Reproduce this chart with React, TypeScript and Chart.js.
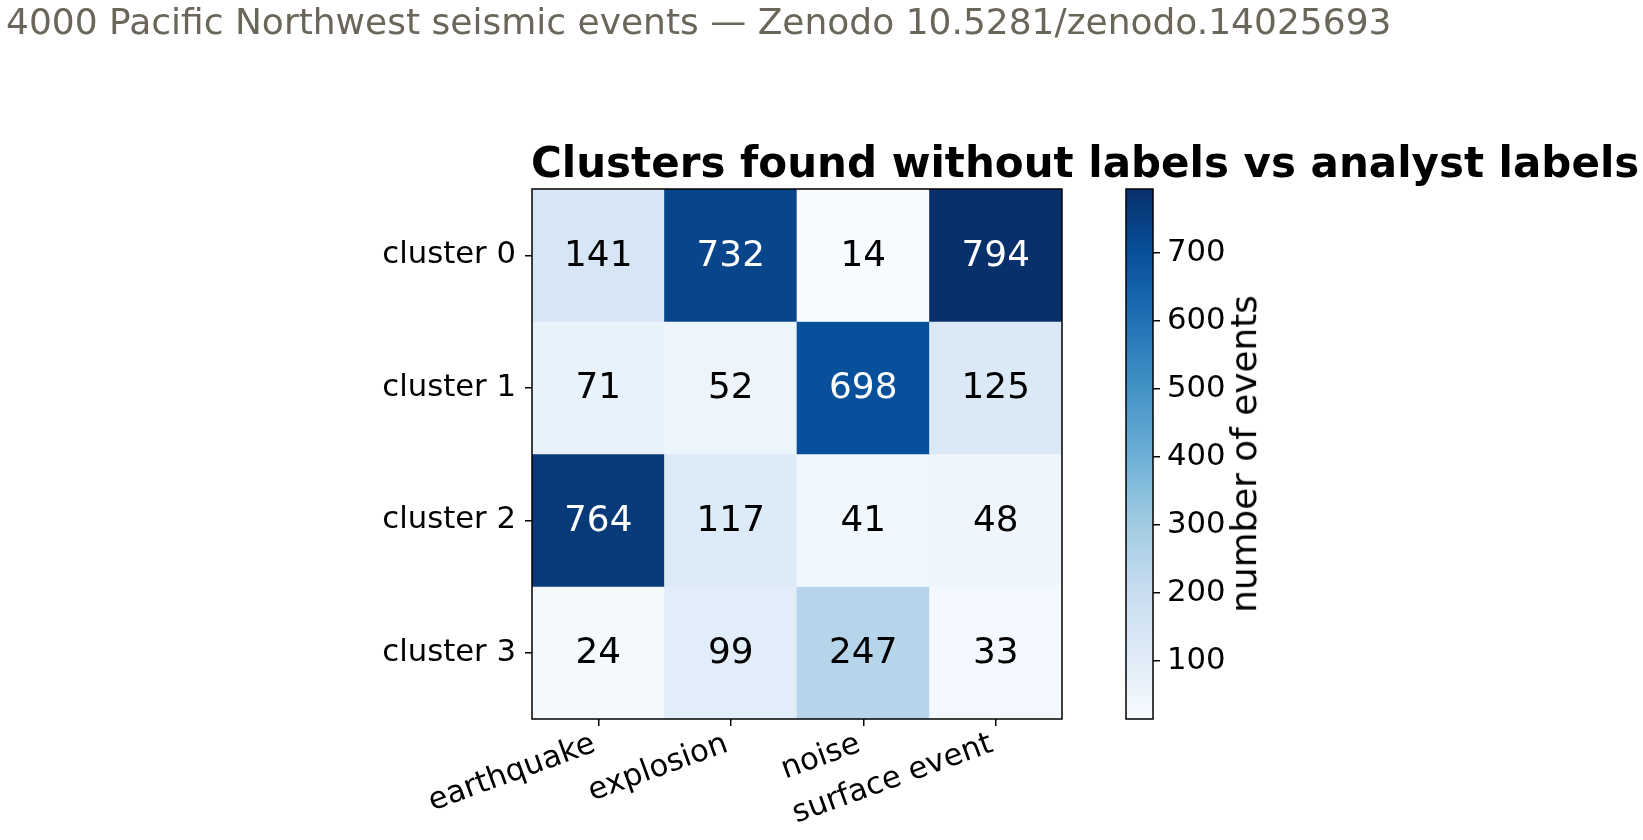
import React, { useEffect, useRef } from 'react';
import { Chart, registerables } from 'chart.js';

Chart.register(...registerables);

// ---- data ----
const CATEGORIES = ['earthquake', 'explosion', 'noise', 'surface event'];
const CLUSTER_LABELS = ['cluster 0', 'cluster 1', 'cluster 2', 'cluster 3'];
const CLUSTER_0 = [141, 732, 14, 794];
const CLUSTER_1 = [71, 52, 698, 125];
const CLUSTER_2 = [764, 117, 41, 48];
const CLUSTER_3 = [24, 99, 247, 33];
const ROWS = [CLUSTER_0, CLUSTER_1, CLUSTER_2, CLUSTER_3];
const COLORBAR_TICKS = [100, 200, 300, 400, 500, 600, 700];

const SUPTITLE = '4000 Pacific Northwest seismic events — Zenodo 10.5281/zenodo.14025693';
const TITLE = 'Clusters found without labels vs analyst labels';
const COLORBAR_LABEL = 'number of events';

// matplotlib "Blues" colormap stops
const BLUES = ['#f7fbff', '#deebf7', '#c6dbef', '#9ecae1', '#6baed6', '#4292c6', '#2171b5', '#08519c', '#08306b'];

const FONT = 'DejaVu Sans';
const W = 1643;
const H = 840;
const TICK_SIZE = 30.7;
const CELL_SIZE = 35.8;

function hexToRgb(h: string) {
  const n = parseInt(h.slice(1), 16);
  return [(n >> 16) & 255, (n >> 8) & 255, n & 255];
}

function blues(t: number) {
  const c = Math.max(0, Math.min(1, t)) * (BLUES.length - 1);
  const i = Math.min(BLUES.length - 2, Math.floor(c));
  const f = c - i;
  const a = hexToRgb(BLUES[i]);
  const b = hexToRgb(BLUES[i + 1]);
  const m = a.map((v, k) => Math.round(v + (b[k] - v) * f));
  return `rgb(${m[0]},${m[1]},${m[2]})`;
}

const ALL = ROWS.flat();
const VMIN = Math.min(...ALL);
const VMAX = Math.max(...ALL);

const framePlugin = {
  id: 'frame',
  afterDraw(chart: any) {
    const { ctx, chartArea: a } = chart;
    ctx.save();
    ctx.strokeStyle = '#000';
    ctx.lineWidth = 1.5;
    ctx.strokeRect(a.left, a.top, a.right - a.left, a.bottom - a.top);
    ctx.restore();
  },
};

const cellLabelPlugin = {
  id: 'cellLabels',
  afterDatasetsDraw(chart: any) {
    const { ctx } = chart;
    ctx.save();
    ctx.font = `${CELL_SIZE}px "${FONT}"`;
    ctx.textAlign = 'center';
    ctx.textBaseline = 'alphabetic';
    chart.data.datasets.forEach((ds: any, di: number) => {
      const meta = chart.getDatasetMeta(di);
      meta.data.forEach((el: any, i: number) => {
        const v = ds.counts[i];
        const p = el.getCenterPoint();
        ctx.fillStyle = v > (VMIN + VMAX) / 2 ? '#ffffff' : '#000000';
        ctx.fillText(String(v), p.x, p.y + 10.5);
      });
    });
    ctx.restore();
  },
};

const tickFont = { family: FONT, size: TICK_SIZE };

export default function App() {
  const mainRef = useRef<HTMLCanvasElement>(null);
  const cbRef = useRef<HTMLCanvasElement>(null);

  useEffect(() => {
    const main = new Chart(mainRef.current as HTMLCanvasElement, {
      type: 'bar',
      data: {
        labels: CATEGORIES,
        datasets: ROWS.map((row, r) => ({
          label: CLUSTER_LABELS[r],
          data: row.map(() => [r - 0.5, r + 0.5]),
          counts: row,
          backgroundColor: row.map((v) => blues((v - VMIN) / (VMAX - VMIN))),
          borderWidth: 0,
          grouped: false,
          barPercentage: 1,
          categoryPercentage: 1,
        })) as any,
      },
      options: {
        responsive: false,
        animation: false,
        devicePixelRatio: 1,
        events: [],
        layout: { padding: { left: 0, top: 189, right: W - 1062, bottom: 0 } },
        plugins: { legend: { display: false }, tooltip: { enabled: false }, title: { display: false } },
        scales: {
          x: {
            type: 'category',
            offset: true,
            border: { display: false },
            grid: { display: true, drawOnChartArea: false, drawTicks: true, tickLength: 7, color: '#000', lineWidth: 1.5, offset: false },
            ticks: { font: tickFont, color: '#000', maxRotation: 20, minRotation: 20, autoSkip: false, padding: 0, labelOffset: -4 },
            afterFit: (s: any) => {
              s.height = H - 719;
            },
          },
          y: {
            type: 'linear',
            min: -0.5,
            max: 3.5,
            reverse: true,
            border: { display: false },
            grid: { display: true, drawOnChartArea: false, drawTicks: true, tickLength: 7, color: '#000', lineWidth: 1.5 },
            afterBuildTicks: (s: any) => {
              s.ticks = CLUSTER_LABELS.map((_, i) => ({ value: i }));
            },
            ticks: {
              font: tickFont,
              color: '#000',
              padding: 9,
              callback: (v: any) => CLUSTER_LABELS[v as number] ?? '',
            },
            afterFit: (s: any) => {
              s.width = 532;
            },
          },
        },
      } as any,
      plugins: [cellLabelPlugin, framePlugin],
    });

    const cb = new Chart(cbRef.current as HTMLCanvasElement, {
      type: 'bar',
      data: {
        labels: ['colorbar'],
        datasets: [
          {
            data: [[VMIN, VMAX]] as any,
            backgroundColor: (c: any) => {
              const chart = c.chart;
              const a = chart.chartArea;
              if (!a) return BLUES[4];
              const g = chart.ctx.createLinearGradient(0, a.bottom, 0, a.top);
              BLUES.forEach((col, i) => g.addColorStop(i / (BLUES.length - 1), col));
              return g;
            },
            borderWidth: 0,
            barPercentage: 1,
            categoryPercentage: 1,
          },
        ],
      },
      options: {
        responsive: false,
        animation: false,
        devicePixelRatio: 1,
        events: [],
        layout: { padding: { left: 1126, top: 189, right: W - 1153 - 80, bottom: H - 719 } },
        plugins: { legend: { display: false }, tooltip: { enabled: false } },
        scales: {
          x: { display: false, offset: true },
          y: {
            type: 'linear',
            position: 'right',
            min: VMIN,
            max: VMAX,
            border: { display: false },
            grid: { display: true, drawOnChartArea: false, drawTicks: true, tickLength: 7, color: '#000', lineWidth: 1.5 },
            afterBuildTicks: (s: any) => {
              s.ticks = COLORBAR_TICKS.map((v) => ({ value: v }));
            },
            ticks: { font: tickFont, color: '#000', padding: 7 },
            afterFit: (s: any) => {
              s.width = 80;
            },
          },
        },
      } as any,
      plugins: [framePlugin],
    });

    return () => {
      main.destroy();
      cb.destroy();
    };
  }, []);

  const abs: React.CSSProperties = { position: 'absolute', left: 0, top: 0 };

  return (
    <div style={{ position: 'absolute', left: 0, top: 0, width: W, height: H, background: '#fff', overflow: 'hidden', fontFamily: FONT }}>
      <canvas ref={mainRef} width={W} height={H} style={abs} />
      <canvas ref={cbRef} width={W} height={H} style={{ ...abs, pointerEvents: 'none' }} />
      <div style={{ position: 'absolute', left: 6, top: 4, fontSize: 36, lineHeight: 1, color: '#6b665a', whiteSpace: 'nowrap' }}>
        {SUPTITLE}
      </div>
      <div style={{ position: 'absolute', left: 531, top: 141.5, fontSize: 42, lineHeight: 1, fontWeight: 'bold', color: '#000', whiteSpace: 'nowrap' }}>
        {TITLE}
      </div>
      <div
        style={{
          position: 'absolute',
          left: 1244,
          top: 454,
          fontSize: 35.8,
          lineHeight: 1,
          color: '#000',
          whiteSpace: 'nowrap',
          transform: 'translate(-50%, -50%) rotate(-90deg)',
        }}
      >
        {COLORBAR_LABEL}
      </div>
    </div>
  );
}
